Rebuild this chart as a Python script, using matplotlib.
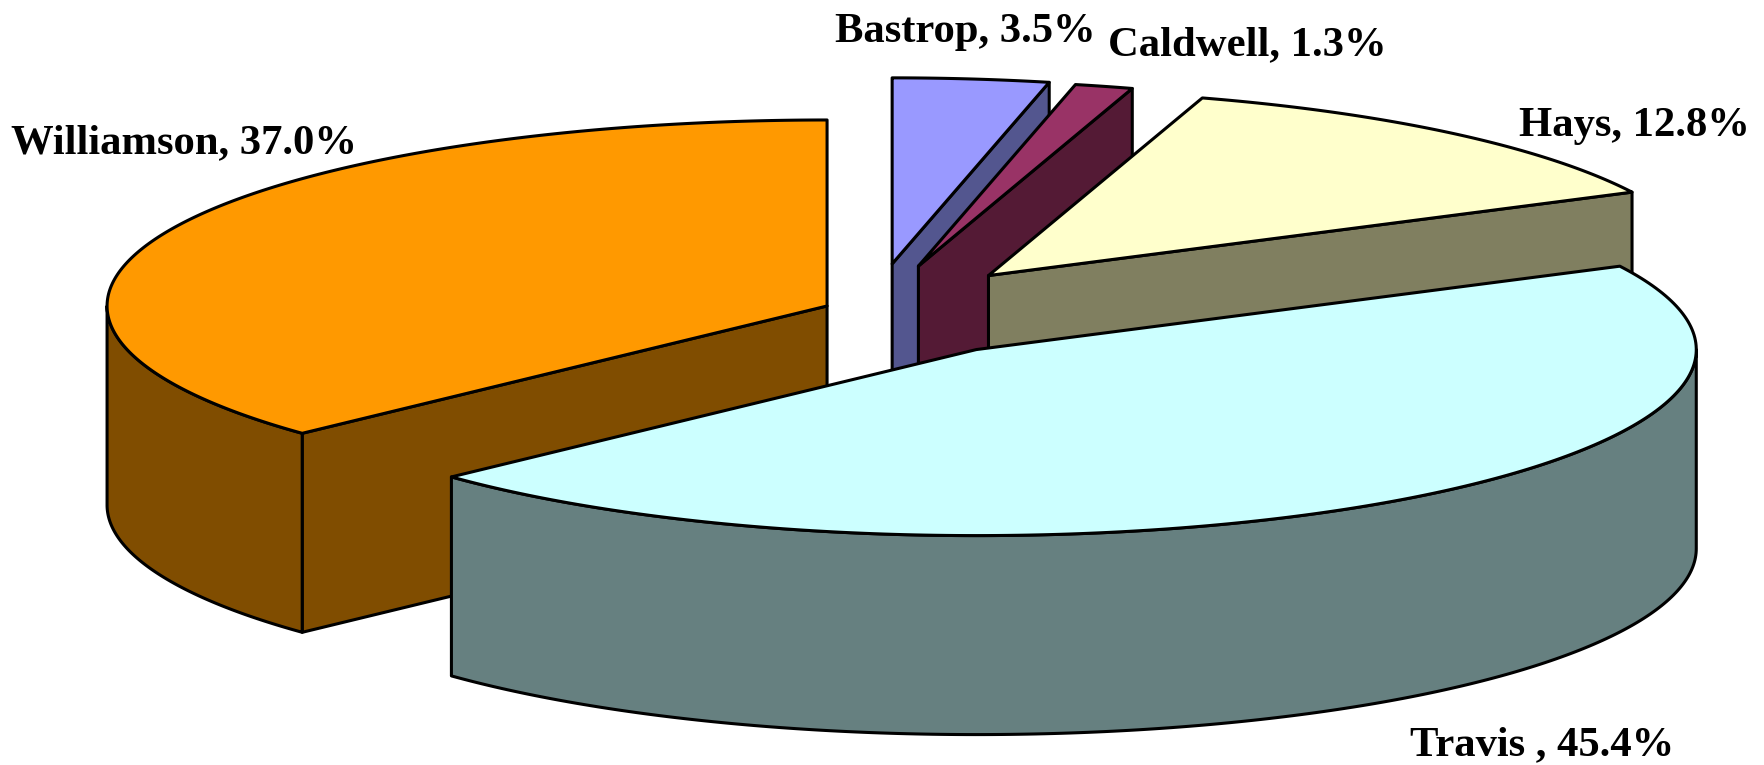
import numpy as np
import matplotlib
matplotlib.use("Agg")
import matplotlib.pyplot as plt
from matplotlib.patches import Polygon

# clockwise from 12 o'clock
counties = ["Bastrop", "Caldwell", "Hays", "Travis ", "Williamson"]
shares = [3.5, 1.3, 12.8, 45.4, 37.0]
explode = [0.255, 0.25, 0.25, 0.253, 0.068]
top_colors = ["#9999FF", "#993366", "#FFFFCC", "#CCFFFF", "#FF9900"]
side_colors = ["#53568F", "#541A35", "#807F60", "#668080", "#804D00"]
label_pos = [(835, 32), (1108, 45), (1519, 126), (1410, 745), (11, 143)]
draw_order = [0, 1, 2, 4, 3]

# pie layout in pixels
cx, cy = 872, 311
rx, ry = 720, 186
depth = 199


def rim(x0, y0, a0, a1):
    t = np.radians(np.linspace(a0, a1, 200))
    return np.column_stack([x0 + rx * np.sin(t), y0 - ry * np.cos(t)])


def add_face(ax, pts, color):
    ax.add_patch(Polygon(pts, closed=True, facecolor=color, edgecolor="black",
                         linewidth=2.2, joinstyle="round"))


def draw_slice(ax, a0, a1, ex, top, side):
    mid = np.radians((a0 + a1) / 2)
    x0 = cx + ex * rx * np.sin(mid)
    y0 = cy - ex * ry * np.cos(mid)
    drop = np.array([0, depth])
    apex = np.array([[x0, y0]])

    # radial cut faces that look towards the viewer
    if 180 < a0 < 360:
        p = rim(x0, y0, a0, a0)[:1]
        add_face(ax, np.vstack([apex, p, p + drop, apex + drop]), side)
    if 0 < a1 < 180:
        p = rim(x0, y0, a1, a1)[:1]
        add_face(ax, np.vstack([apex, p, p + drop, apex + drop]), side)

    # outer wall, only the front half of the ellipse
    w0, w1 = max(a0, 90), min(a1, 270)
    if w1 > w0:
        arc = rim(x0, y0, w0, w1)
        add_face(ax, np.vstack([arc, arc[::-1] + drop]), side)

    add_face(ax, np.vstack([apex, rim(x0, y0, a0, a1)]), top)


fig = plt.figure(figsize=(17.64, 7.65), dpi=100)
ax = fig.add_axes([0, 0, 1, 1])
ax.set_xlim(0, 1764)
ax.set_ylim(765, 0)
ax.axis("off")

edges = np.concatenate([[0], np.cumsum(shares)]) / sum(shares) * 360
for i in draw_order:
    draw_slice(ax, edges[i], edges[i + 1], explode[i], top_colors[i], side_colors[i])

for name, share, pos in zip(counties, shares, label_pos):
    ax.text(pos[0], pos[1], f"{name}, {share:.1f}%", family="Liberation Serif",
            fontweight="bold", fontsize=30.7, ha="left", va="center", color="black")

fig.savefig("out.png", dpi=100)
plt.close(fig)
